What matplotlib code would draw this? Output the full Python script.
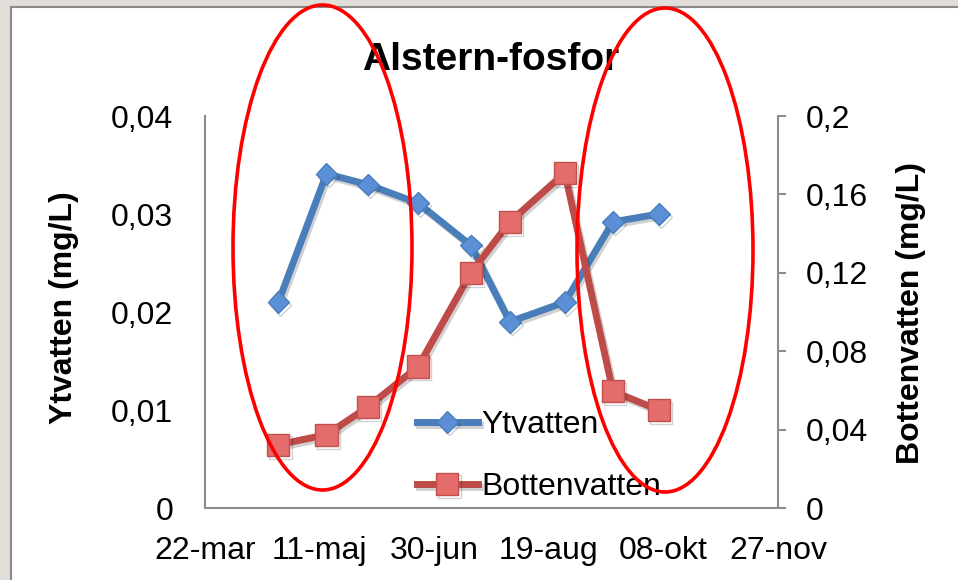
import datetime as dt
import matplotlib
matplotlib.use("Agg")
import matplotlib.pyplot as plt
import matplotlib.dates as mdates
import matplotlib.patches as patches
import matplotlib.patheffects as pe
from matplotlib.ticker import FuncFormatter, FixedLocator

plt.rcParams['font.family'] = ['Liberation Sans', 'DejaVu Sans']

# provtagningar i Alstern
dates = ["2010-04-23", "2010-05-14", "2010-06-01", "2010-06-23", "2010-07-16",
         "2010-08-02", "2010-08-26", "2010-09-16", "2010-10-06"]
ytvatten = [0.021, 0.0341, 0.033, 0.0311, 0.0268, 0.019, 0.021, 0.0292, 0.030]
bottenvatten = [0.0323, 0.0374, 0.0515, 0.0722, 0.120, 0.146, 0.171, 0.0595, 0.050]

x_ticks = ["2010-03-22", "2010-05-11", "2010-06-30", "2010-08-19", "2010-10-08", "2010-11-27"]
left_ticks = [0, 0.01, 0.02, 0.03, 0.04]
right_ticks = [0, 0.04, 0.08, 0.12, 0.16, 0.2]
months = ["jan", "feb", "mar", "apr", "maj", "jun", "jul", "aug", "sep", "okt", "nov", "dec"]

W, H = 958, 580


def todate(s):
    return dt.datetime.strptime(s, "%Y-%m-%d")


def comma(v, pos=None):
    return f"{round(v, 4):g}".replace(".", ",")


def datelabel(v, pos=None):
    d = mdates.num2date(v)
    return f"{d.day:02d}-{months[d.month - 1]}"


xd = [todate(s) for s in dates]
xt = [mdates.date2num(todate(s)) for s in x_ticks]

fig = plt.figure(figsize=(W / 100, H / 100), dpi=100, facecolor="#e1ded9")
fig.add_artist(patches.Rectangle((11 / W, -0.01), 1, 1.01 - 7 / H, transform=fig.transFigure,
                                 facecolor="white", edgecolor="#8a8a8a", lw=1.5, zorder=-5))

ax = fig.add_axes([205 / W, 1 - 508 / H, (778 - 205) / W, (508 - 116) / H])
ax.set_facecolor("white")
ax2 = ax.twinx()

shadow = [pe.SimpleLineShadow(offset=(1.5, -2), alpha=0.18, shadow_color="k"), pe.Normal()]

l1, = ax.plot(xd, ytvatten, color="#4a7ebb", lw=5, marker="D", ms=11,
              mfc="#5b90d8", mec="#4a7ebb", mew=1, label="Ytvatten", path_effects=shadow)
l2, = ax2.plot(xd, bottenvatten, color="#be4b48", lw=5, marker="s", ms=16,
               mfc="#e46c6a", mec="#c0504d", mew=1, label="Bottenvatten", path_effects=shadow)

ax.set_xlim(xt[0], xt[-1])
ax.xaxis.set_major_locator(FixedLocator(xt))
ax.xaxis.set_major_formatter(FuncFormatter(datelabel))
ax.set_ylim(0, 0.04)
ax.yaxis.set_major_locator(FixedLocator(left_ticks))
ax.yaxis.set_major_formatter(FuncFormatter(comma))
ax2.set_ylim(0, 0.2)
ax2.yaxis.set_major_locator(FixedLocator(right_ticks))
ax2.yaxis.set_major_formatter(FuncFormatter(comma))

for s in ["top", "right"]:
    ax.spines[s].set_visible(False)
for s in ["top", "left", "bottom"]:
    ax2.spines[s].set_visible(False)
for sp in [ax.spines["left"], ax.spines["bottom"], ax2.spines["right"]]:
    sp.set_color("#8c8c8c")
    sp.set_linewidth(1.5)

ax.tick_params(axis="y", length=0, pad=23, labelsize=23)
ax.tick_params(axis="x", length=0, pad=20, labelsize=23)
ax2.tick_params(axis="y", length=6, width=1.5, color="#8c8c8c", pad=14, labelsize=23)

ax2.legend([l1, l2], ["Ytvatten", "Bottenvatten"], loc="upper left",
           bbox_to_anchor=(417 / W, 1 - 410 / H), bbox_transform=fig.transFigure,
           frameon=False, fontsize=23, handlelength=1.9, handletextpad=0.1,
           labelspacing=1.0, borderpad=0, borderaxespad=0)

fig.text(491 / W, 1 - 70 / H, "Alstern-fosfor", ha="center", va="baseline",
         fontsize=28, fontweight="bold")
fig.text(64 / W, 1 - 308 / H, "Ytvatten (mg/L)", rotation=90, ha="center", va="center",
         fontsize=23, fontweight="bold")
fig.text(911 / W, 1 - 313 / H, "Bottenvatten (mg/L)", rotation=90, ha="center", va="center",
         fontsize=23, fontweight="bold")

# röda markeringar av vår- och höstperioden
for cx, cy, w, h in [(322.5, 247.5, 179, 485), (665, 250, 176, 484)]:
    fig.add_artist(patches.Ellipse((cx / W, 1 - cy / H), w / W, h / H, transform=fig.transFigure,
                                   fill=False, edgecolor="#ff0000", lw=2.6, zorder=10))

fig.savefig("out.png", dpi=100, facecolor=fig.get_facecolor())
